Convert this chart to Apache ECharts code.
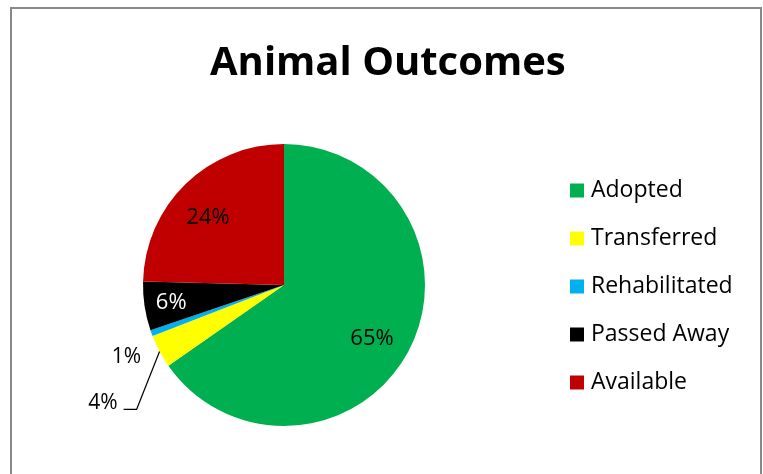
<!DOCTYPE html>
<html>
<head>
<meta charset="utf-8">
<script src="https://cdn.jsdelivr.net/npm/echarts@6/dist/echarts.min.js"></script>
<style>html,body{margin:0;padding:0;background:#fff}#c{width:763px;height:474px}</style>
</head>
<body>
<div id="c"></div>
<script>
const titleText = 'Animal Outcomes';
const categories = ['Adopted', 'Transferred', 'Rehabilitated', 'Passed Away', 'Available'];
const values = [65.3, 3.8, 0.7, 5.6, 24.6];
const labels = ['65%', '4%', '1%', '6%', '24%'];
const colors = ['#00B050', '#FFFF00', '#00B0F0', '#000000', '#C00000'];

const FONT = '"Open Sans", sans-serif';
const chart = echarts.init(document.getElementById('c'), null, {renderer: 'canvas'});

const insideOffsets = [[-6, 5], [0, 0], [0, 0], [-8, 2], [-2, 9]];
const mainData = categories.map((n, i) => ({
  name: n, value: values[i], itemStyle: {color: colors[i]},
  label: {show: i === 1 || i === 2},
  labelLine: {show: i === 1 || i === 2, lineStyle: {opacity: i === 1 ? 1 : 0}}
}));
const overlayData = categories.map((n, i) => ({
  name: n, value: values[i],
  label: {show: !(i === 1 || i === 2), color: i === 3 ? '#fff' : '#000', offset: insideOffsets[i]}
}));

chart.setOption({
  animation: false,
  title: {
    text: titleText, left: 210, top: 44, padding: 0,
    textStyle: {fontFamily: FONT, fontWeight: 'bold', fontSize: 40, color: '#000'}
  },
  graphic: [{type: 'rect', shape: {x: 11, y: 8, width: 750, height: 500}, style: {fill: 'none', stroke: '#898989', lineWidth: 2}, silent: true}],
  legend: {
    orient: 'vertical', left: 565, top: 174, itemGap: 25, itemWidth: 14, itemHeight: 14, icon: 'rect',
    data: categories,
    textStyle: {fontFamily: FONT, fontSize: 23, color: '#000', lineHeight: 23, padding: [0, 0, 0, 2]}
  },
  series: [{
    type: 'pie', center: [284, 285], radius: 141, startAngle: 90, clockwise: true,
    silent: true, avoidLabelOverlap: false,
    data: mainData,
    label: {position: 'outside', formatter: p => labels[p.dataIndex], fontFamily: FONT, fontSize: 21, color: '#000'},
    labelLine: {length: 20, length2: 10, smooth: false, lineStyle: {color: '#000', width: 1.3}},
    labelLayout: function (p) {
      if (!p.labelLinePoints) return {};
      const a = p.labelLinePoints[0];
      if (p.dataIndex === 1) {
        const b = [a[0] - 23, a[1] + 58];
        const c = [b[0] - 13, b[1]];
        return {x: c[0] - 6, y: c[1] - 6, align: 'right', verticalAlign: 'middle', labelLinePoints: [a, b, c]};
      }
      if (p.dataIndex === 2) {
        return {x: a[0] - 25, y: a[1] + 24, align: 'center', verticalAlign: 'middle'};
      }
      return {};
    }
  }, {
    type: 'pie', center: [284, 285], radius: [0, 206], startAngle: 90, clockwise: true,
    silent: true, data: overlayData,
    itemStyle: {color: 'rgba(0,0,0,0)'},
    label: {position: 'inside', formatter: p => labels[p.dataIndex], fontFamily: FONT, fontSize: 22},
    labelLine: {show: false}
  }]
});
</script>
</body>
</html>
